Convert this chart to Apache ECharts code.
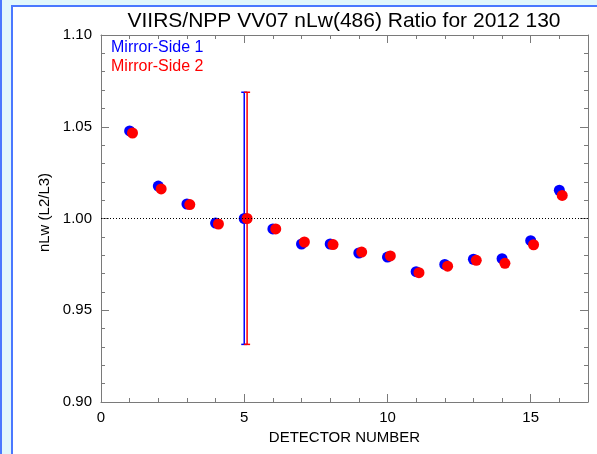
<!DOCTYPE html>
<html lang="en">

<head>
    <meta charset="UTF-8">
    <title>VIIRS/NPP VV07 nLw(486) Ratio</title>
    <style>
        * {
            margin: 0;
            padding: 0;
        }

        #main {
            width: 597px;
            height: 454px;
        }
    </style>
</head>

<body>
    <div id="main"></div>
</body>
<script src="https://cdn.jsdelivr.net/npm/echarts@6/dist/echarts.min.js"></script>
<script>
    // detector numbers (mirror side 2 is plotted slightly to the right)
    let detectors = [1, 2, 3, 4, 5, 6, 7, 8, 9, 10, 11, 12, 13, 14, 15, 16];
    let side2Offset = 0.1;
    // nLw ratio L2/L3 per detector
    let side1 = [1.0477, 1.0177, 1.0079, 0.9975, 1.0000, 0.9943, 0.9861, 0.9861,
        0.9812, 0.9790, 0.9710, 0.9750, 0.9778, 0.9781, 0.9879, 1.0154];
    let side2 = [1.0466, 1.0161, 1.0076, 0.9970, 1.0000, 0.9943, 0.9872, 0.9858,
        0.9817, 0.9796, 0.9705, 0.9740, 0.9772, 0.9756, 0.9857, 1.0126];
    // error bar drawn at detector 5: [detector, low, high]
    let errSide1 = [[5, 0.9314, 1.0688]];
    let errSide2 = [[5 + side2Offset, 0.9314, 1.0688]];
    let xTicks = [0, 5, 10, 15];
    let yTicks = [0.90, 0.95, 1.00, 1.05, 1.10];

    let font = 'Liberation Sans, Arial, Helvetica, sans-serif';
    let axisGray = '#7a7a7a';

    function errorBar(color) {
        return function (params, api) {
            let x = api.value(0);
            let lo = api.coord([x, api.value(1)]);
            let hi = api.coord([x, api.value(2)]);
            let w = 3;
            let style = { stroke: color, lineWidth: 1.5 };
            return {
                type: 'group',
                children: [
                    { type: 'line', shape: { x1: lo[0], y1: lo[1], x2: hi[0], y2: hi[1] }, style: style },
                    { type: 'line', shape: { x1: hi[0] - w, y1: hi[1], x2: hi[0] + w, y2: hi[1] }, style: style },
                    { type: 'line', shape: { x1: lo[0] - w, y1: lo[1], x2: lo[0] + w, y2: lo[1] }, style: style }
                ]
            };
        };
    }

    function xAxisOpt(pos, showLabel) {
        return {
            type: 'value',
            position: pos,
            min: 0,
            max: 17,
            interval: 5,
            name: showLabel ? 'DETECTOR NUMBER' : '',
            nameLocation: 'middle',
            nameGap: 28,
            nameTextStyle: { color: '#000', fontSize: 15, fontFamily: font },
            axisLine: { show: true, onZero: false, lineStyle: { color: axisGray, width: 1 } },
            axisTick: { show: true, inside: true, length: 8, lineStyle: { color: axisGray } },
            minorTick: { show: true, splitNumber: 5, length: 4, lineStyle: { color: axisGray } },
            splitLine: { show: false },
            axisLabel: {
                show: showLabel,
                showMaxLabel: false,
                color: '#000',
                fontSize: 15,
                fontFamily: font,
                margin: 8,
                formatter: v => xTicks.indexOf(v) >= 0 ? String(v) : ''
            }
        };
    }

    function yAxisOpt(pos, showLabel) {
        return {
            type: 'value',
            position: pos,
            min: 0.9,
            max: 1.1,
            interval: 0.05,
            name: showLabel ? 'nLw (L2/L3)' : '',
            nameLocation: 'middle',
            nameGap: 47,
            nameTextStyle: { color: '#000', fontSize: 15, fontFamily: font, padding: [0, 0, 0, 12] },
            axisLine: { show: true, onZero: false, lineStyle: { color: axisGray, width: 1 } },
            axisTick: { show: true, inside: true, length: 8, lineStyle: { color: axisGray } },
            minorTick: { show: true, splitNumber: 5, length: 4, lineStyle: { color: axisGray } },
            splitLine: { show: false },
            axisLabel: {
                show: showLabel,
                color: '#000',
                fontSize: 15,
                fontFamily: font,
                margin: 9,
                formatter: v => {
                    let hit = yTicks.find(t => Math.abs(t - v) < 1e-6);
                    return hit === undefined ? '' : hit.toFixed(2);
                }
            }
        };
    }

    let option = {
        backgroundColor: '#e1f7fc',
        animation: false,
        title: {
            text: 'VIIRS/NPP VV07 nLw(486) Ratio for 2012 130',
            left: 339,
            textAlign: 'center',
            top: 6,
            textStyle: { color: '#000', fontSize: 21, fontWeight: 'normal', fontFamily: font }
        },
        graphic: [
            { type: 'rect', z: -10, shape: { x: 0, y: 0, width: 2, height: 454 }, style: { fill: '#4a78ff' } },
            { type: 'rect', z: -10, shape: { x: 11, y: 5, width: 586, height: 449 }, style: { fill: '#4a78ff' } },
            { type: 'rect', z: -9, shape: { x: 13, y: 7, width: 584, height: 447 }, style: { fill: '#ffffff' } },
            {
                type: 'text', left: 111, top: 40,
                style: { text: 'Mirror-Side 1', fill: '#0000ff', fontSize: 16, fontFamily: font }
            },
            {
                type: 'text', left: 111, top: 59,
                style: { text: 'Mirror-Side 2', fill: '#ff0000', fontSize: 16, fontFamily: font }
            }
        ],
        grid: {
            left: 101,
            right: 9,
            top: 35,
            bottom: 52
        },
        xAxis: [xAxisOpt('bottom', true), xAxisOpt('top', false)],
        yAxis: [yAxisOpt('left', true), yAxisOpt('right', false)],
        series: [
            {
                name: 'Mirror-Side 1',
                type: 'scatter',
                symbolSize: 11,
                itemStyle: { color: '#0000ff', opacity: 1 },
                data: detectors.map((d, i) => [d, side1[i]]),
                z: 3,
                markLine: {
                    silent: true,
                    symbol: 'none',
                    label: { show: false },
                    lineStyle: { color: '#000', type: [1, 2], width: 1 },
                    data: [{ yAxis: 1.0 }]
                }
            },
            {
                name: 'Mirror-Side 2',
                type: 'scatter',
                symbolSize: 11,
                itemStyle: { color: '#ff0000', opacity: 1 },
                data: detectors.map((d, i) => [d + side2Offset, side2[i]]),
                z: 4
            },
            {
                type: 'custom',
                renderItem: errorBar('#0000ff'),
                data: errSide1,
                z: 2
            },
            {
                type: 'custom',
                renderItem: errorBar('#ff0000'),
                data: errSide2,
                z: 2
            }
        ]
    };
    initChart(option);

    function initChart(option) {
        let myCharts = echarts.init(document.getElementById('main'));
        myCharts.clear();
        myCharts.setOption(option);
        window.addEventListener('resize', () => {
            myCharts.resize();
        });
    }
</script>

</html>
